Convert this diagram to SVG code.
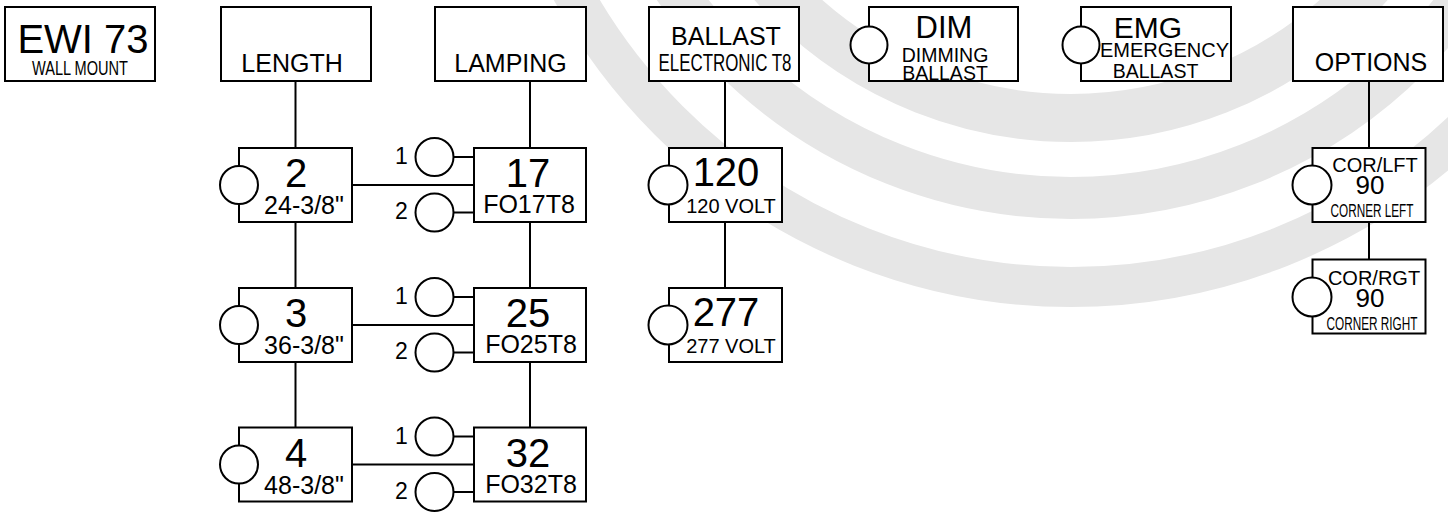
<svg xmlns="http://www.w3.org/2000/svg" width="1448" height="512" viewBox="0 0 1448 512">
<style>
.bg{fill:#fff}
.ring{fill:none;stroke:#e6e6e6}
.box{fill:#fff;stroke:#000;stroke-width:2}
.dot{fill:#fff;stroke:#000;stroke-width:2}
#connectors line{stroke:#000;stroke-width:2}
text{font-family:"Liberation Sans",Arial,Helvetica,sans-serif;fill:#000;text-anchor:middle}
.h{font-size:25px}
.big{font-size:40px}
.sm{font-size:25px}
.lb{font-size:23px}
.v{font-size:20px}
</style>
<rect class="bg" x="0" y="0" width="1448" height="512"/>
<g id="watermark">
<circle class="ring" cx="1071" cy="-282" r="569" stroke-width="40"/>
<circle class="ring" cx="1071" cy="-282" r="480" stroke-width="42"/>
<circle class="ring" cx="1071" cy="-282" r="400" stroke-width="48"/>
</g>
<g id="connectors">
<line x1="295.5" y1="81" x2="295.5" y2="148"/>
<line x1="295.5" y1="222" x2="295.5" y2="288"/>
<line x1="295.5" y1="362" x2="295.5" y2="427.5"/>
<line x1="530" y1="81" x2="530" y2="148"/>
<line x1="530" y1="222" x2="530" y2="288"/>
<line x1="530" y1="362" x2="530" y2="427.5"/>
<line x1="352" y1="185" x2="474" y2="185"/>
<line x1="352" y1="325" x2="474" y2="325"/>
<line x1="352" y1="464.5" x2="474" y2="464.5"/>
<line x1="453" y1="157" x2="474" y2="157"/>
<line x1="453" y1="212.5" x2="474" y2="212.5"/>
<line x1="453" y1="297" x2="474" y2="297"/>
<line x1="453" y1="352.5" x2="474" y2="352.5"/>
<line x1="453" y1="436.5" x2="474" y2="436.5"/>
<line x1="453" y1="492" x2="474" y2="492"/>
<line x1="725" y1="81" x2="725" y2="148"/>
<line x1="725" y1="222" x2="725" y2="288"/>
<line x1="1369" y1="81" x2="1369" y2="148"/>
<line x1="1369" y1="222" x2="1369" y2="259.5"/>
</g>
<g id="ewi73">
<rect class="box" x="5" y="7" width="150" height="74"/>
<text x="83" y="53" style="font-size:40px">EWI 73</text>
<text x="80" y="75" style="font-size:20px" textLength="96" lengthAdjust="spacingAndGlyphs">WALL MOUNT</text>
</g>
<g id="length">
<rect class="box" x="221" y="7" width="150" height="74"/>
<text class="h" x="292" y="72">LENGTH</text>
</g>
<g id="lamping">
<rect class="box" x="435" y="7" width="151" height="74"/>
<text class="h" x="510.5" y="72">LAMPING</text>
</g>
<g id="ballast">
<rect class="box" x="649" y="7" width="150" height="74"/>
<text class="h" x="726" y="45">BALLAST</text>
<text x="725" y="71" style="font-size:24px" textLength="133" lengthAdjust="spacingAndGlyphs">ELECTRONIC T8</text>
</g>
<g id="dim">
<rect class="box" x="869" y="7" width="149" height="74"/>
<circle class="dot" cx="869" cy="45" r="18.5"/>
<text x="944" y="38" style="font-size:31px">DIM</text>
<text x="945" y="61.5" style="font-size:19.5px">DIMMING</text>
<text x="945" y="80" style="font-size:19.5px">BALLAST</text>
</g>
<g id="emg">
<rect class="box" x="1081" y="7" width="150" height="74"/>
<circle class="dot" cx="1081" cy="45" r="18.5"/>
<text x="1148" y="38" style="font-size:30px">EMG</text>
<text x="1164.5" y="56.5" style="font-size:20px" textLength="129" lengthAdjust="spacingAndGlyphs">EMERGENCY</text>
<text x="1155.5" y="77.5" style="font-size:19.5px">BALLAST</text>
</g>
<g id="options">
<rect class="box" x="1293" y="7" width="150" height="74"/>
<text class="h" x="1371" y="71">OPTIONS</text>
</g>
<g id="len2">
<rect class="box" x="239" y="148" width="113" height="74"/>
<circle class="dot" cx="239" cy="185" r="19"/>
<text class="big" x="296" y="187">2</text>
<text class="sm" x="304" y="214">24-3/8"</text>
</g>
<g id="len3">
<rect class="box" x="239" y="288" width="113" height="74"/>
<circle class="dot" cx="239" cy="325" r="19"/>
<text class="big" x="296" y="327">3</text>
<text class="sm" x="304" y="354">36-3/8"</text>
</g>
<g id="len4">
<rect class="box" x="239" y="427.5" width="113" height="74"/>
<circle class="dot" cx="239" cy="464.5" r="19"/>
<text class="big" x="296" y="466.5">4</text>
<text class="sm" x="304" y="493.5">48-3/8"</text>
</g>
<g id="lamp17">
<rect class="box" x="474" y="148" width="112" height="74"/>
<text class="big" x="528" y="187">17</text>
<text class="sm" x="529" y="213">FO17T8</text>
<circle class="dot" cx="434.5" cy="157" r="19"/>
<circle class="dot" cx="434.5" cy="212.5" r="19"/>
<text class="lb" x="401.5" y="164">1</text>
<text class="lb" x="401.5" y="219">2</text>
</g>
<g id="lamp25">
<rect class="box" x="474" y="288" width="112" height="74"/>
<text class="big" x="528" y="327">25</text>
<text class="sm" x="531" y="353">FO25T8</text>
<circle class="dot" cx="434.5" cy="297" r="19"/>
<circle class="dot" cx="434.5" cy="352.5" r="19"/>
<text class="lb" x="401.5" y="304">1</text>
<text class="lb" x="401.5" y="359">2</text>
</g>
<g id="lamp32">
<rect class="box" x="474" y="427.5" width="112" height="74"/>
<text class="big" x="528" y="466.5">32</text>
<text class="sm" x="531" y="492.5">FO32T8</text>
<circle class="dot" cx="434.5" cy="436.5" r="19"/>
<circle class="dot" cx="434.5" cy="492" r="19"/>
<text class="lb" x="401.5" y="443.5">1</text>
<text class="lb" x="401.5" y="498.5">2</text>
</g>
<g id="v120">
<rect class="box" x="669" y="148" width="113" height="74"/>
<circle class="dot" cx="668" cy="185" r="19.5"/>
<text class="big" x="726" y="186">120</text>
<text class="v" x="731" y="213">120 VOLT</text>
</g>
<g id="v277">
<rect class="box" x="669" y="288" width="113" height="74"/>
<circle class="dot" cx="668" cy="325" r="19.5"/>
<text class="big" x="726" y="326">277</text>
<text class="v" x="731" y="353">277 VOLT</text>
</g>
<g id="corlft">
<rect class="box" x="1312.5" y="148" width="113" height="74"/>
<circle class="dot" cx="1312" cy="185" r="19.5"/>
<text x="1375" y="171.5" style="font-size:20px">COR/LFT</text>
<text x="1370" y="194" style="font-size:26px">90</text>
<text x="1372" y="217" style="font-size:19px" textLength="83" lengthAdjust="spacingAndGlyphs">CORNER LEFT</text>
</g>
<g id="corrgt">
<rect class="box" x="1312.5" y="259.5" width="113" height="74"/>
<circle class="dot" cx="1312" cy="297" r="19.5"/>
<text x="1374" y="284.5" style="font-size:20px">COR/RGT</text>
<text x="1370" y="306.5" style="font-size:26px">90</text>
<text x="1372" y="329.5" style="font-size:19px" textLength="91" lengthAdjust="spacingAndGlyphs">CORNER RIGHT</text>
</g>
</svg>
